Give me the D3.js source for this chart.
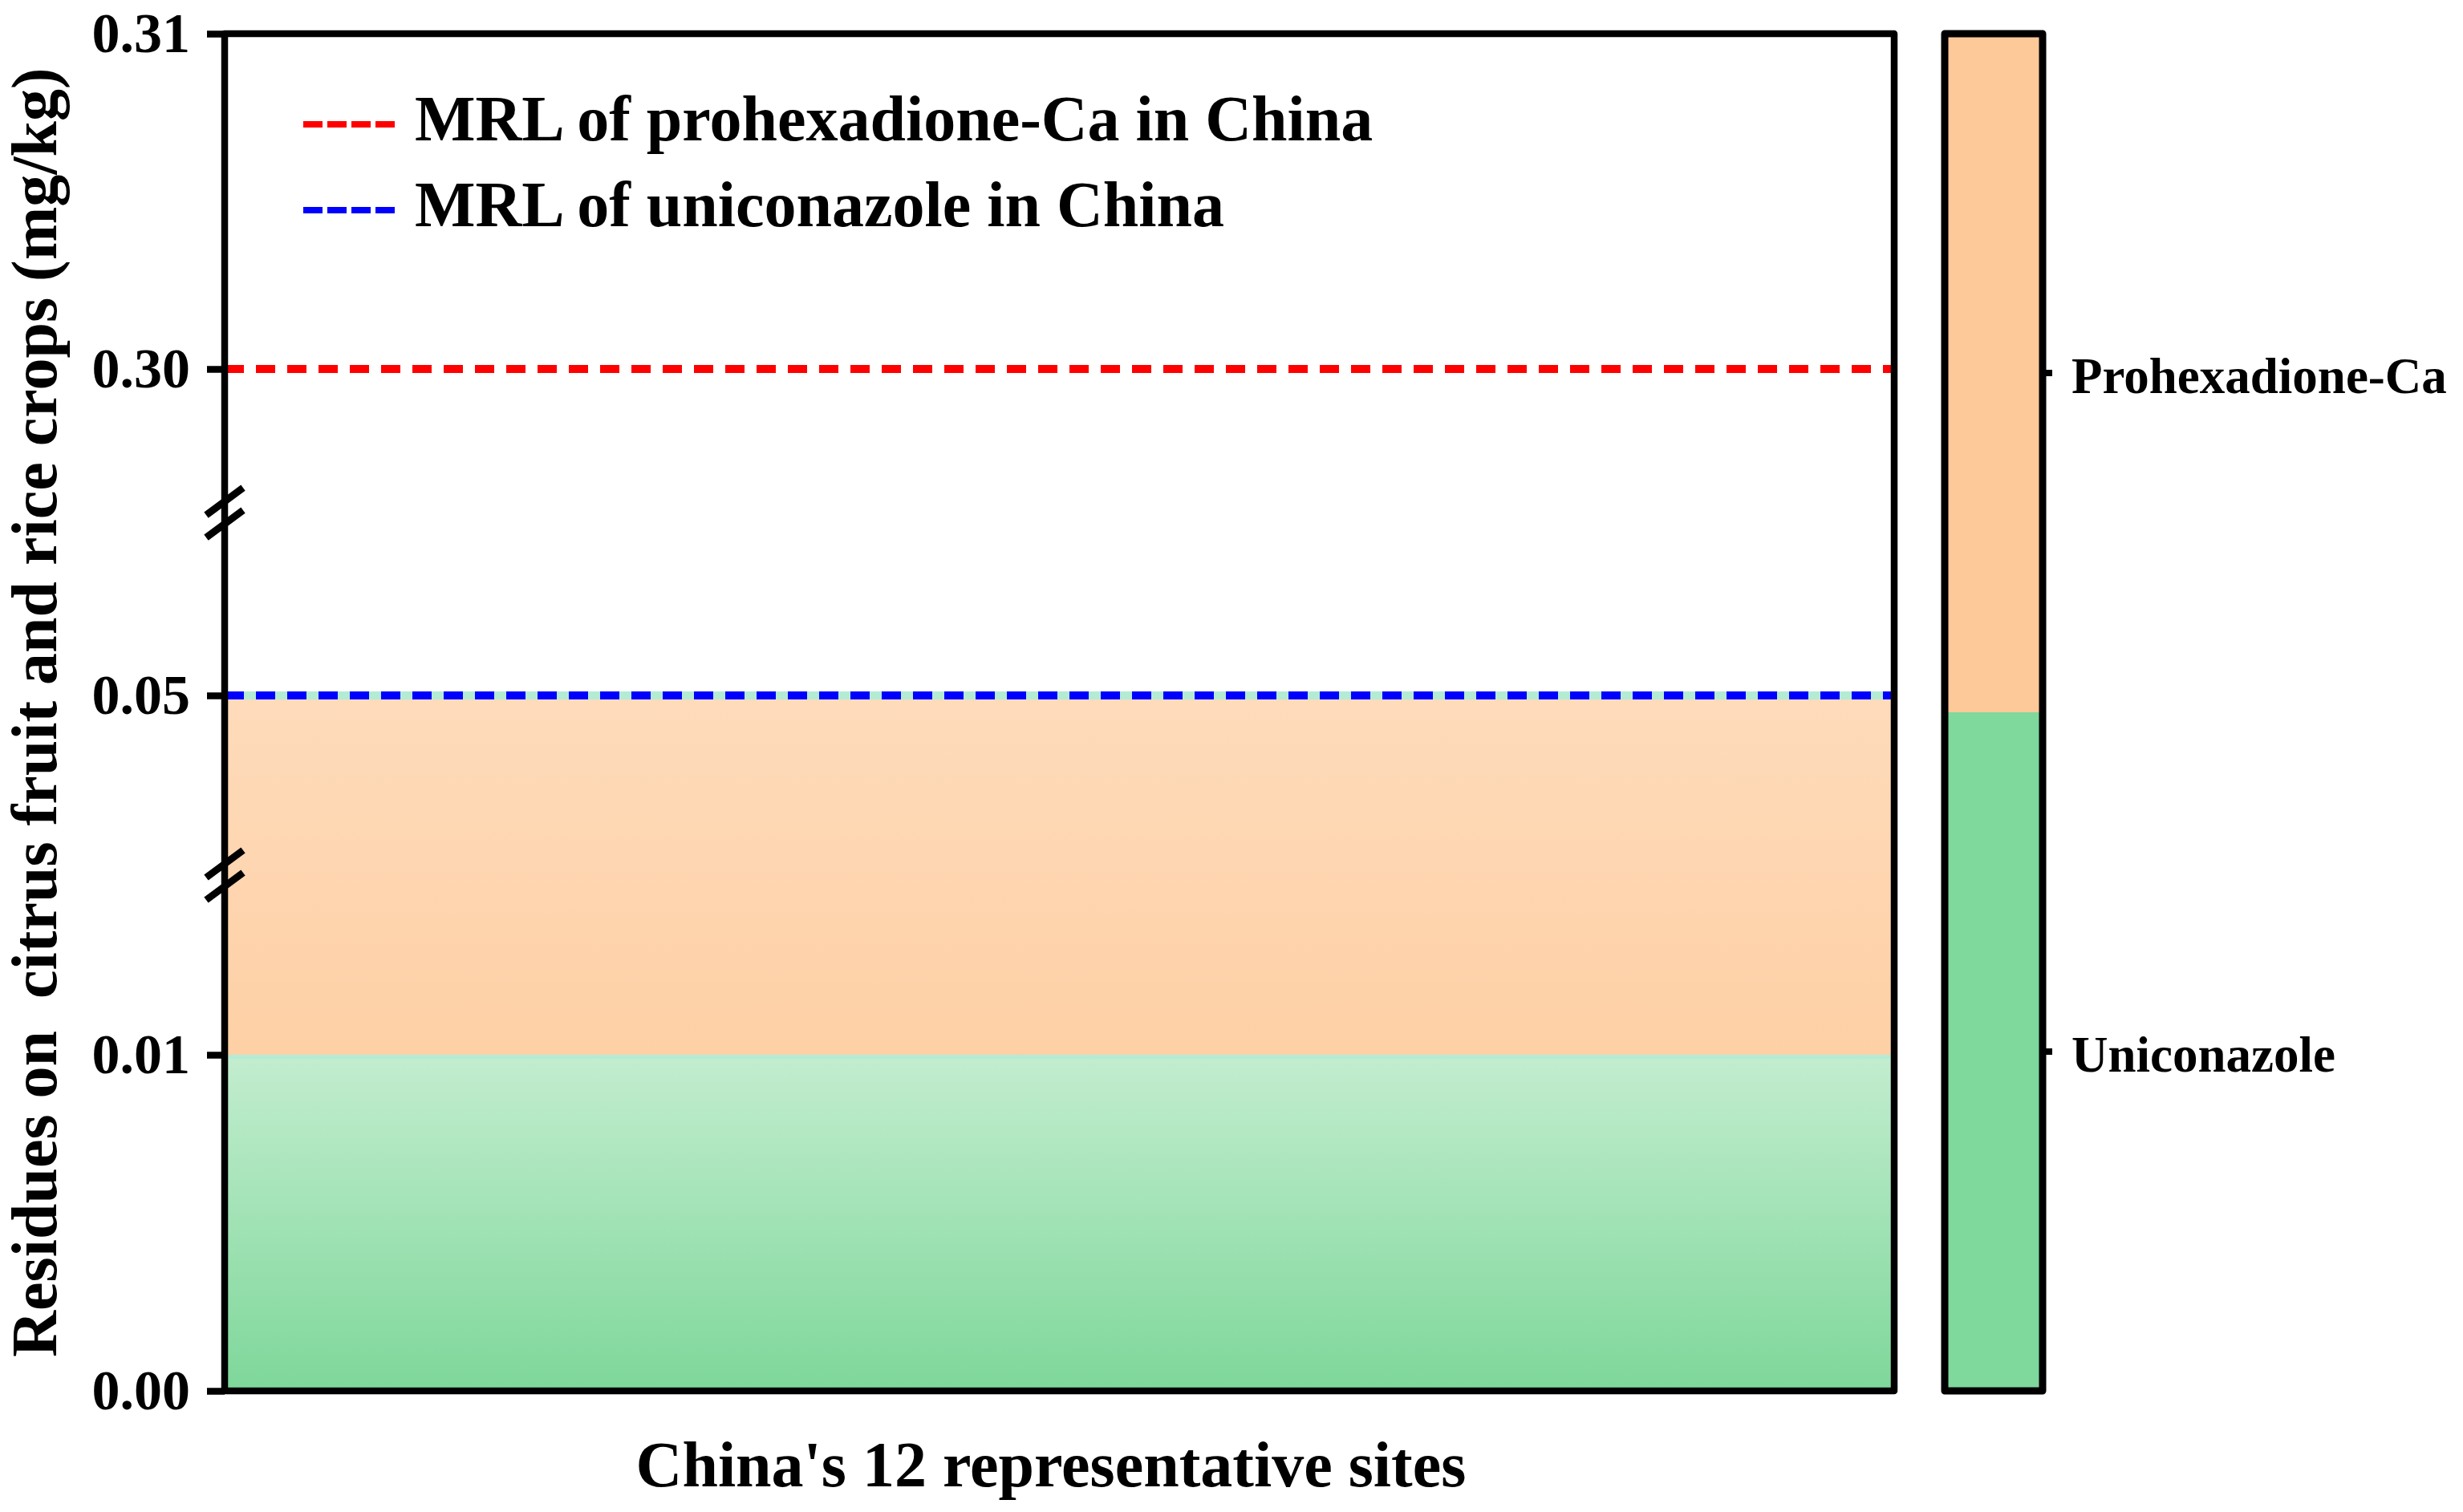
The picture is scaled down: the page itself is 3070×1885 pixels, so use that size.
<!DOCTYPE html>
<html>
<head>
<meta charset="utf-8">
<script src="https://cdn.jsdelivr.net/npm/d3@7"></script>
<style>
  body { margin: 0; background: #fff; }
  svg text { font-family: "Liberation Serif", "Times New Roman", serif; font-weight: bold; }
</style>
</head>
<body>
<svg id="chart"></svg>
<script>
// data
var siteCount = 12;
var tickValues = [0, 0.01, 0.05, 0.30, 0.31];
var tickLabels = ["0.00", "0.01", "0.05", "0.30", "0.31"];
var breakValues = [0.03, 0.19];

var bandNames = ["Uniconazole", "Prohexadione-Ca"];
var bandLow = [0, 0.01];
var bandHigh = [0.01, 0.05];

var mrlNames = ["MRL of prohexadione-Ca in China", "MRL of uniconazole in China"];
var mrlValues = [0.30, 0.05];
var mrlColors = ["#ff0000", "#0000ff"];

var legendOrder = ["Prohexadione-Ca", "Uniconazole"];

var svgWidth = 3070, svgHeight = 1885;
var plotLeft = 280, plotRight = 2361, plotTop = 42, plotBottom = 1734;

var svg = d3.select("#chart")
    .attr("width", svgWidth)
    .attr("height", svgHeight);

// scales (piecewise, broken y axis)
var x = d3.scaleLinear().domain([0, siteCount]).range([plotLeft, plotRight]);
var y = d3.scaleLinear()
    .domain(tickValues)
    .range([plotBottom, 1315, 867, 460, plotTop]);

// gradients for the filled bands
var defs = svg.append("defs");
var gradColors = [["#c3edcf", "#7ed79a"], ["#fedbbb", "#fed0a5"]];
bandNames.forEach(function (n, i) {
    var g = defs.append("linearGradient")
        .attr("id", "grad" + i)
        .attr("gradientUnits", "userSpaceOnUse")
        .attr("x1", 0).attr("x2", 0)
        .attr("y1", y(bandHigh[i])).attr("y2", y(bandLow[i]));
    g.append("stop").attr("offset", "0%").attr("stop-color", gradColors[i][0]);
    g.append("stop").attr("offset", "100%").attr("stop-color", gradColors[i][1]);
});

// filled bands
var area = d3.area()
    .x(function (d) { return x(d.x); })
    .y0(function (d) { return y(d.lo); })
    .y1(function (d) { return y(d.hi); });

bandNames.forEach(function (n, i) {
    svg.append("path")
        .datum([{ x: 0, lo: bandLow[i], hi: bandHigh[i] }, { x: siteCount, lo: bandLow[i], hi: bandHigh[i] }])
        .attr("fill", "url(#grad" + i + ")")
        .attr("d", area);
    // thin top edge of each band
    svg.append("line")
        .attr("x1", x(0)).attr("x2", x(siteCount))
        .attr("y1", y(bandHigh[i])).attr("y2", y(bandHigh[i]))
        .attr("stroke", "#b3ebd5")
        .attr("stroke-width", 10);
});

// MRL dashed lines
mrlValues.forEach(function (v, i) {
    svg.append("line")
        .attr("x1", x(0)).attr("x2", x(siteCount))
        .attr("y1", y(v)).attr("y2", y(v))
        .attr("stroke", mrlColors[i])
        .attr("stroke-width", 10)
        .attr("stroke-dasharray", "24,15");
});

// frame
svg.append("rect")
    .attr("x", plotLeft).attr("y", plotTop)
    .attr("width", plotRight - plotLeft).attr("height", plotBottom - plotTop)
    .attr("fill", "none")
    .attr("stroke", "#000")
    .attr("stroke-width", 8.5)
    .attr("stroke-linejoin", "round");

// y axis
var yAxis = svg.append("g")
    .attr("transform", "translate(" + plotLeft + ",0)")
    .call(d3.axisLeft(y)
        .tickValues(tickValues)
        .tickFormat(function (d, i) { return tickLabels[i]; })
        .tickSize(22)
        .tickPadding(21));
yAxis.select(".domain").remove();
yAxis.selectAll(".tick line").attr("stroke", "#000").attr("stroke-width", 8.5);
yAxis.selectAll(".tick text")
    .attr("fill", "#000")
    .style("font-size", "70px");

// axis break marks
breakValues.forEach(function (v) {
    [-14, 14].forEach(function (off) {
        svg.append("line")
            .attr("x1", plotLeft - 23).attr("y1", y(v) + off + 17)
            .attr("x2", plotLeft + 23).attr("y2", y(v) + off - 17)
            .attr("stroke", "#000")
            .attr("stroke-width", 9);
    });
});

// legend
mrlNames.forEach(function (n, i) {
    var ly = 155 + i * 107;
    svg.append("line")
        .attr("x1", 378).attr("x2", 492)
        .attr("y1", ly).attr("y2", ly)
        .attr("stroke", mrlColors[i])
        .attr("stroke-width", 8)
        .attr("stroke-dasharray", "24,6");
    svg.append("text")
        .attr("x", 517).attr("y", ly + 20)
        .style("font-size", "80px")
        .text(n);
});

// axis titles
svg.append("text")
    .attr("transform", "translate(70," + ((plotTop + plotBottom) / 2) + ") rotate(-90)")
    .attr("text-anchor", "middle")
    .style("font-size", "80px")
    .style("white-space", "pre")
    .text("Residues on  citrus fruit and rice crops (mg/kg)");

svg.append("text")
    .attr("x", 1310).attr("y", 1853)
    .attr("text-anchor", "middle")
    .style("font-size", "80px")
    .text("China's 12 representative sites");

// colour bar
var cbLeft = 2424, cbRight = 2546;
var cb = d3.scaleBand().domain(legendOrder).range([plotTop, plotBottom]).padding(0);
var cbColors = { "Prohexadione-Ca": "#fec998", "Uniconazole": "#7fd89c" };

svg.selectAll(".cb")
    .data(legendOrder)
    .enter().append("rect")
    .attr("x", cbLeft).attr("width", cbRight - cbLeft)
    .attr("y", function (d) { return cb(d); })
    .attr("height", cb.bandwidth())
    .attr("fill", function (d) { return cbColors[d]; });

svg.append("rect")
    .attr("x", cbLeft).attr("y", plotTop)
    .attr("width", cbRight - cbLeft).attr("height", plotBottom - plotTop)
    .attr("fill", "none")
    .attr("stroke", "#000")
    .attr("stroke-width", 9)
    .attr("stroke-linejoin", "round");

var cbAxis = svg.append("g")
    .attr("transform", "translate(" + cbRight + ",0)")
    .call(d3.axisRight(cb).tickSize(12).tickPadding(24));
cbAxis.select(".domain").remove();
cbAxis.selectAll(".tick line").attr("stroke", "#000").attr("stroke-width", 8);
cbAxis.selectAll(".tick text")
    .attr("fill", "#000")
    .attr("dy", "0.4em")
    .style("font-size", "63px");
</script>
</body>
</html>
